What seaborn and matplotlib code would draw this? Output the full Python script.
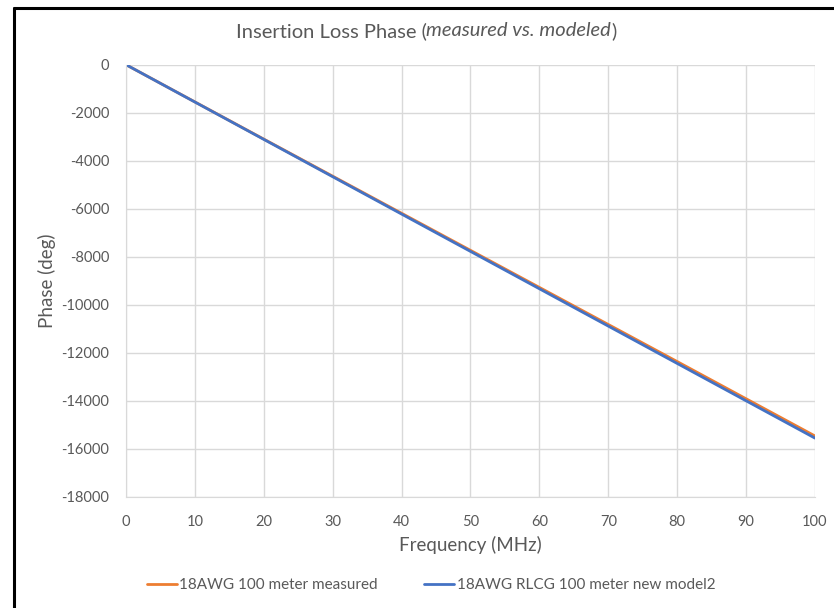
import matplotlib
matplotlib.use("Agg")
import matplotlib.pyplot as plt
import seaborn as sns
import pandas as pd
from matplotlib.lines import Line2D

freq_mhz = [0, 10, 20, 30, 40, 50, 60, 70, 80, 90, 100]
measured = [0, -1550, -3100, -4645, -6190, -7735, -9280, -10825, -12370, -13920, -15470]
modeled = [0, -1556, -3112, -4668, -6224, -7780, -9336, -10892, -12448, -14004, -15560]
series_names = ["18AWG 100 meter measured", "18AWG RLCG 100 meter new model2"]
x_ticks = [0, 10, 20, 30, 40, 50, 60, 70, 80, 90, 100]
y_ticks = [0, -2000, -4000, -6000, -8000, -10000, -12000, -14000, -16000, -18000]

sns.set_style("white")
plt.rcParams["font.family"] = ["Lato", "DejaVu Sans"]
plt.rcParams["axes.unicode_minus"] = False

TXT = "#595959"
colors = ["#ED7D31", "#4472C4"]

df = pd.concat([
    pd.DataFrame({"f": freq_mhz, "phase": measured, "series": series_names[0]}),
    pd.DataFrame({"f": freq_mhz, "phase": modeled, "series": series_names[1]}),
])

W, H = 834, 608
fig = plt.figure(figsize=(W / 100, H / 100), dpi=100)
ax = fig.add_axes([126 / W, 1 - 496.7 / H, (815 - 126) / W, (496.7 - 64.7) / H])

sns.lineplot(data=df, x="f", y="phase", hue="series", palette=colors,
             linewidth=2.0, ax=ax, legend=False, sort=False)

ax.set_xlim(0, 100)
ax.set_ylim(-18000, 0)
ax.set_xticks(x_ticks)
ax.set_yticks(y_ticks)
ax.grid(True, color="#D9D9D9", linewidth=1.0)
ax.set_axisbelow(True)
for s in ax.spines.values():
    s.set_visible(False)
ax.spines["left"].set_visible(True)
ax.spines["left"].set_color("#D9D9D9")
ax.spines["bottom"].set_visible(True)
ax.spines["bottom"].set_color("#D9D9D9")
ax.tick_params(axis="both", length=0, labelsize=10.5, colors=TXT)
ax.tick_params(axis="y", pad=12)
ax.tick_params(axis="x", pad=13)
ax.set_xlabel("Frequency (MHz)", fontsize=13.5, color=TXT, labelpad=5)
ax.set_ylabel("Phase (deg)", fontsize=13.5, color=TXT, labelpad=4)

# Title with mixed italic
fig.canvas.draw()
r = fig.canvas.get_renderer()
parts = [("Insertion Loss Phase (", "normal"), ("measured vs. modeled", "italic"), (")", "normal")]
texts = []
widths = []
for s, st in parts:
    t = fig.text(0, 1 - 31 / H, s, fontsize=14.5, color=TXT, style=st, va="center", ha="left")
    texts.append(t)
    widths.append(t.get_window_extent(renderer=r).width)
total = sum(widths)
x0 = 426 - total / 2
for t, w in zip(texts, widths):
    t.set_x(x0 / W)
    x0 += w

# Legend
handles = [Line2D([0], [0], color=c, linewidth=2) for c in colors]
leg = fig.legend(handles, series_names, loc="center", bbox_to_anchor=(431 / W, 1 - 585 / H),
                 ncol=2, frameon=False, fontsize=11, handlelength=2.0, handletextpad=0.15,
                 columnspacing=3.0)
for t in leg.get_texts():
    t.set_color(TXT)

# Chart border
fig.add_artist(Line2D([14 / W, 1], [1 - 8 / H, 1 - 8 / H], transform=fig.transFigure,
                      color="black", linewidth=2.2))
fig.add_artist(Line2D([14 / W, 14 / W], [0, 1 - 8 / H], transform=fig.transFigure,
                      color="black", linewidth=2.2))

fig.savefig("out.png", dpi=100)
